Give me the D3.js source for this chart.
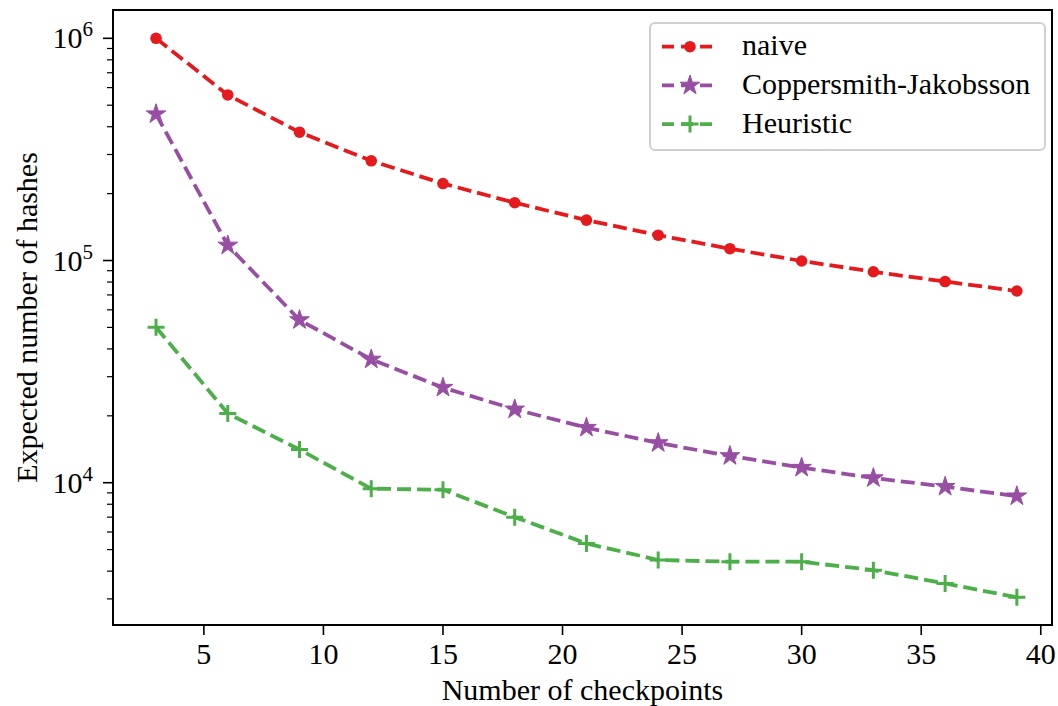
<!DOCTYPE html>
<html>
<head>
<meta charset="utf-8">
<script src="https://cdnjs.cloudflare.com/ajax/libs/d3/7.8.5/d3.min.js"></script>
<style>
  body { margin: 0; background: #fff; }
  text { font-family: "Liberation Serif", "DejaVu Serif", serif; fill: #000; }
</style>
</head>
<body>
<div id="chart"></div>
<script>
// Data
var checkpoints = [3, 6, 9, 12, 15, 18, 21, 24, 27, 30, 33, 36, 39];
var naive = [1000000, 556000, 378000, 281000, 222000, 182000, 152000, 130000, 113000, 99500, 89000, 80400, 72900];
var coppersmith = [456000, 117000, 54000, 35900, 26800, 21400, 17700, 15100, 13200, 11700, 10500, 9600, 8700];
var heuristic = [50100, 20500, 14100, 9400, 9300, 7000, 5330, 4490, 4410, 4410, 4040, 3520, 3050];
var seriesNames = ["naive", "Coppersmith-Jakobsson", "Heuristic"];
var xTicks = [5, 10, 15, 20, 25, 30, 35, 40];
var yTickExps = [4, 5, 6];

var width = 1058;
var height = 706;
// plot area edges (note: "top" is taken by window.top)
var plotLeft = 113, plotRight = 1052, plotTop = 10, plotBottom = 625;

var svg = d3.select("#chart")
  .append("svg")
  .attr("width", width)
  .attr("height", height);

// Scales
var xScale = d3.scaleLinear()
  .domain([1.2, 40.47])
  .range([plotLeft, plotRight]);

var yScale = d3.scaleLog()
  .domain([2289, 1341000])
  .range([plotBottom, plotTop]);

var colors = ["#e41a1c", "#984ea3", "#4daf4a"];
var allSeries = [naive, coppersmith, heuristic];
var lineWidth = 3.8;
var dashes = "14,6";

// Line generator
var line = d3.line()
  .x(d => xScale(d[0]))
  .y(d => yScale(d[1]));

var plot = svg.append("g");

// Marker drawing
var starPath = d3.symbol().type(d3.symbolStar).size(120);
function drawMarker(g, kind, color) {
  if (kind === 0) {
    g.append("circle").attr("r", 5.8).attr("fill", color);
  } else if (kind === 1) {
    g.append("path").attr("d", starPath()).attr("fill", color)
      .attr("stroke", color).attr("stroke-width", 1).attr("stroke-linejoin", "round");
  } else {
    g.append("path").attr("d", "M-8.5,0H8.5M0,-8.5V8.5")
      .attr("stroke", color).attr("stroke-width", 3).attr("fill", "none");
  }
}

allSeries.forEach(function(values, i) {
  var pts = checkpoints.map((c, j) => [c, values[j]]);
  plot.append("path")
    .datum(pts)
    .attr("d", line)
    .attr("fill", "none")
    .attr("stroke", colors[i])
    .attr("stroke-width", lineWidth)
    .attr("stroke-dasharray", dashes);

  pts.forEach(function(p) {
    var g = plot.append("g")
      .attr("transform", "translate(" + xScale(p[0]) + "," + yScale(p[1]) + ")");
    drawMarker(g, i, colors[i]);
  });
});

// x axis ticks
xTicks.forEach(function(t) {
  svg.append("line")
    .attr("x1", xScale(t)).attr("x2", xScale(t))
    .attr("y1", plotBottom).attr("y2", plotBottom + 10)
    .attr("stroke", "#000").attr("stroke-width", 1.6);
  svg.append("text")
    .attr("x", xScale(t))
    .attr("y", plotBottom + 39)
    .attr("text-anchor", "middle")
    .attr("font-size", 30)
    .text(t);
});

// y axis major ticks
yTickExps.forEach(function(e) {
  var y = yScale(Math.pow(10, e));
  svg.append("line")
    .attr("x1", plotLeft - 10).attr("x2", plotLeft)
    .attr("y1", y).attr("y2", y)
    .attr("stroke", "#000").attr("stroke-width", 1.6);
  var label = svg.append("text")
    .attr("x", 93)
    .attr("y", y + 10)
    .attr("text-anchor", "end")
    .attr("font-size", 30);
  label.append("tspan").text("10");
  label.append("tspan").attr("dy", -12).attr("font-size", 21).text(e);
});

// y axis minor ticks
var yMin = yScale.domain()[0], yMax = yScale.domain()[1];
for (var e = 3; e <= 6; e++) {
  for (var m = 2; m <= 9; m++) {
    var v = m * Math.pow(10, e);
    if (v < yMin || v > yMax) continue;
    svg.append("line")
      .attr("x1", plotLeft - 6).attr("x2", plotLeft)
      .attr("y1", yScale(v)).attr("y2", yScale(v))
      .attr("stroke", "#000").attr("stroke-width", 1.2);
  }
}

// Frame
svg.append("rect")
  .attr("x", plotLeft).attr("y", plotTop)
  .attr("width", plotRight - plotLeft).attr("height", plotBottom - plotTop)
  .attr("fill", "none")
  .attr("stroke", "#000")
  .attr("stroke-width", 2);

// Axis labels
svg.append("text")
  .attr("x", (plotLeft + plotRight) / 2)
  .attr("y", 700)
  .attr("text-anchor", "middle")
  .attr("font-size", 30)
  .text("Number of checkpoints");

svg.append("text")
  .attr("transform", "rotate(-90)")
  .attr("x", -(plotTop + plotBottom) / 2)
  .attr("y", 37)
  .attr("text-anchor", "middle")
  .attr("font-size", 30)
  .text("Expected number of hashes");

// Legend
var legend = svg.append("g");
legend.append("rect")
  .attr("x", 650).attr("y", 23)
  .attr("width", 395).attr("height", 127)
  .attr("rx", 5)
  .attr("fill", "#fff")
  .attr("fill-opacity", 0.8)
  .attr("stroke", "#d0d0d0")
  .attr("stroke-width", 2);

seriesNames.forEach(function(name, i) {
  var y = 46.7 + i * 38.7;
  legend.append("line")
    .attr("x1", 662).attr("x2", 718)
    .attr("y1", y).attr("y2", y)
    .attr("stroke", colors[i])
    .attr("stroke-width", lineWidth)
    .attr("stroke-dasharray", "12,7");
  var g = legend.append("g").attr("transform", "translate(690," + y + ")");
  drawMarker(g, i, colors[i]);
  legend.append("text")
    .attr("x", 742)
    .attr("y", y + 8.5)
    .attr("font-size", 30)
    .text(name);
});
</script>
</body>
</html>
